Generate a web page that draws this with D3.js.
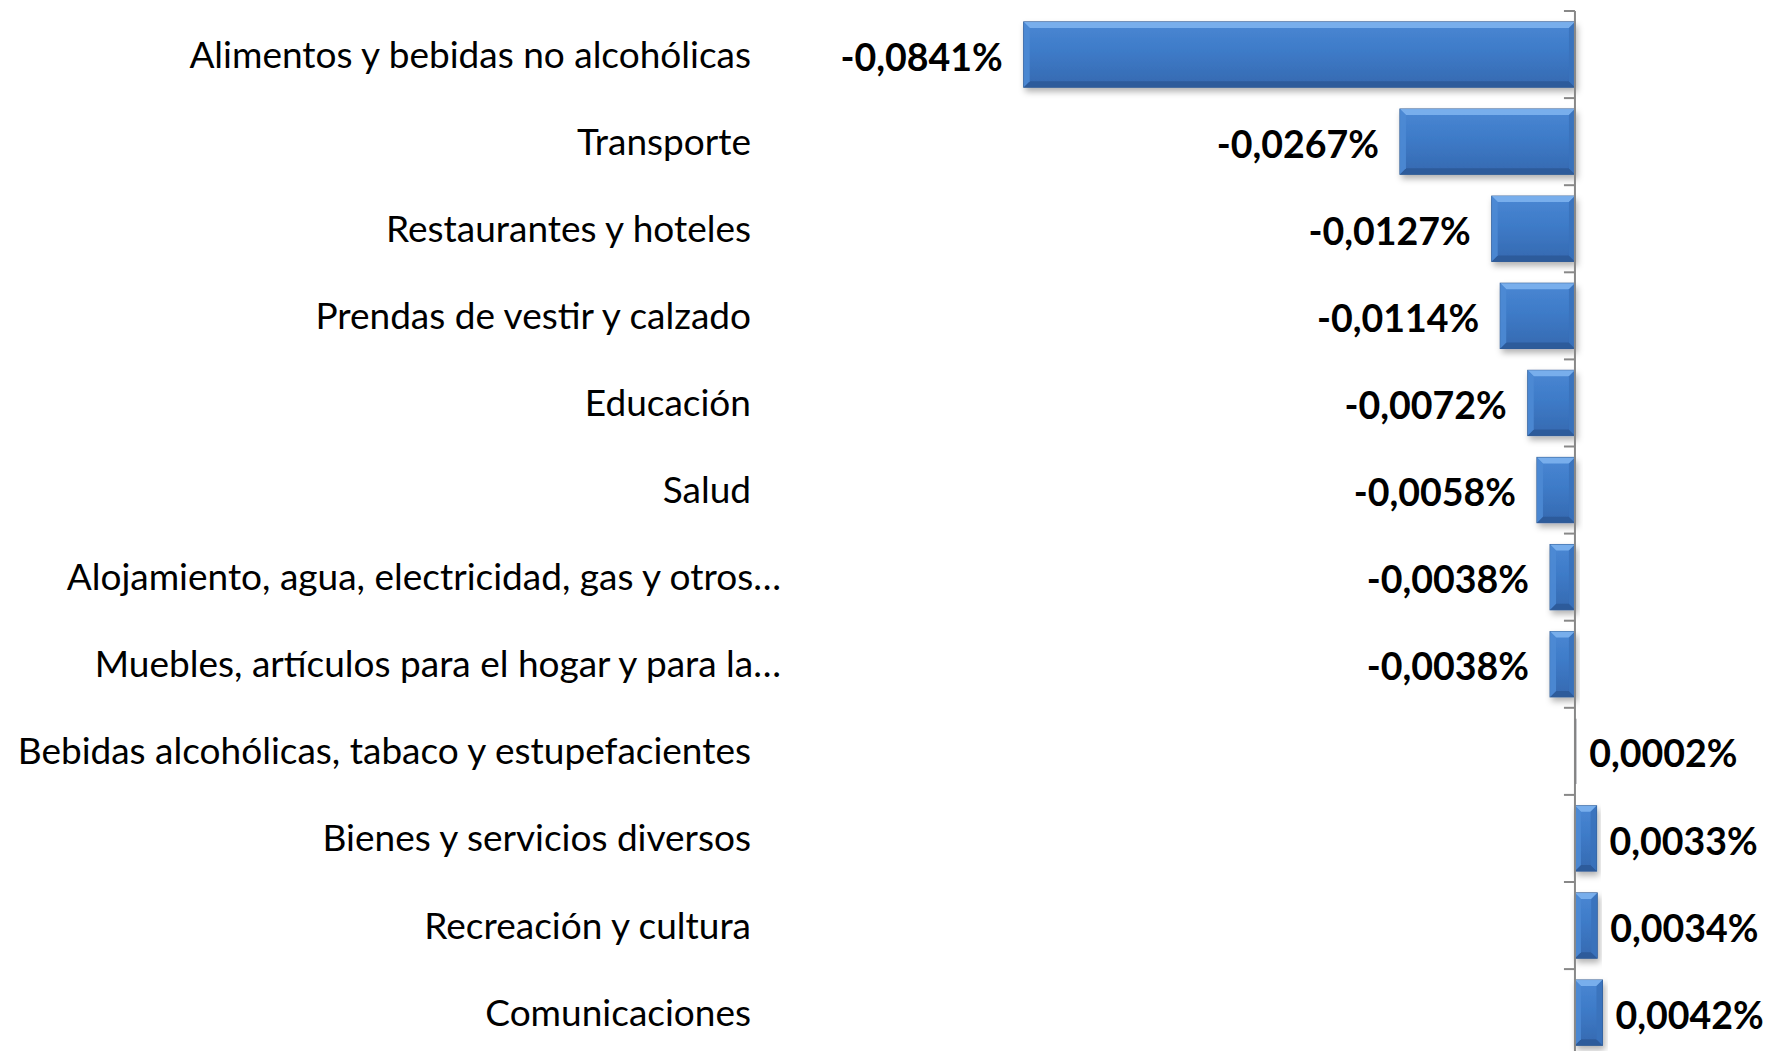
<!DOCTYPE html>
<html>
<head>
<meta charset="utf-8">
<script src="https://cdn.jsdelivr.net/npm/d3@7"></script>
<style>
  body { margin: 0; background: #fff; }
  svg { display: block; }
</style>
</head>
<body>
<svg id="chart" width="1772" height="1051"></svg>
<script>
const categories = [
  "Alimentos y bebidas no alcohólicas",
  "Transporte",
  "Restaurantes y hoteles",
  "Prendas de vestir y calzado",
  "Educación",
  "Salud",
  "Alojamiento, agua, electricidad, gas y otros…",
  "Muebles, artículos para el hogar y para la…",
  "Bebidas alcohólicas, tabaco y estupefacientes",
  "Bienes y servicios diversos",
  "Recreación y cultura",
  "Comunicaciones"
]
const values = [-0.0841, -0.0267, -0.0127, -0.0114, -0.0072, -0.0058, -0.0038, -0.0038, 0.0002, 0.0033, 0.0034, 0.0042]
const valueLabels = ["-0,0841%", "-0,0267%", "-0,0127%", "-0,0114%", "-0,0072%", "-0,0058%", "-0,0038%", "-0,0038%", "0,0002%", "0,0033%", "0,0034%", "0,0042%"]

const data = categories.map((c, i) => ({cat: c, value: values[i], label: valueLabels[i]}))

const svg = d3.select("#chart")

const xScale = d3.scaleLinear()
    .domain([-0.09, 0.01])
    .range([985, 1640.5])

const yScale = d3.scaleBand()
    .domain(categories)
    .range([11, 11 + 12 * 87.1])
    .paddingInner(0.25)
    .paddingOuter(0.125)

const step = yScale.step()
const gap = step - yScale.bandwidth()

// gradient + shadow for the bevelled bars
const defs = svg.append("defs")
const grad = defs.append("linearGradient")
    .attr("id", "barGrad")
    .attr("x1", 0).attr("y1", 0).attr("x2", 0).attr("y2", 1)
grad.append("stop").attr("offset", "0%").attr("stop-color", "#4a87d3")
grad.append("stop").attr("offset", "45%").attr("stop-color", "#3e7bc8")
grad.append("stop").attr("offset", "100%").attr("stop-color", "#3569b0")

const shadow = defs.append("filter")
    .attr("id", "shadow")
    .attr("x", "-20%").attr("y", "-20%").attr("width", "140%").attr("height", "160%")
shadow.append("feDropShadow")
    .attr("dx", 2).attr("dy", 4)
    .attr("stdDeviation", 3)
    .attr("flood-color", "#000")
    .attr("flood-opacity", 0.3)

const bars = svg.append("g")
    .selectAll("g")
    .data(data)
    .join("g")

bars.append("rect")
    .attr("x", d => xScale(Math.min(0, d.value)))
    .attr("y", d => yScale(d.cat))
    .attr("width", d => Math.abs(xScale(d.value) - xScale(0)))
    .attr("height", yScale.bandwidth())
    .attr("fill", d => Math.abs(d.value) < 0.001 ? "#2e3440" : "url(#barGrad)")
    .attr("stroke", d => Math.abs(d.value) < 0.001 ? "none" : "#2f5b95")
    .attr("stroke-width", 1)
    .attr("filter", d => Math.abs(d.value) < 0.001 ? null : "url(#shadow)")

// bevel edges
function bevel(d, side){
    const x0 = xScale(Math.min(0, d.value)), x1 = xScale(Math.max(0, d.value))
    const y0 = yScale(d.cat), y1 = y0 + yScale.bandwidth()
    const b = Math.min(6, (x1 - x0) / 2)
    if(side == "top") return [[x0, y0], [x1, y0], [x1 - b, y0 + b], [x0 + b, y0 + b]]
    if(side == "bottom") return [[x0, y1], [x1, y1], [x1 - b, y1 - b], [x0 + b, y1 - b]]
    if(side == "left") return [[x0, y0], [x0 + b, y0 + b], [x0 + b, y1 - b], [x0, y1]]
    return [[x1, y0], [x1 - b, y0 + b], [x1 - b, y1 - b], [x1, y1]]
}
const bevelFill = {top: "#7db2ee", bottom: "#2c5a98", left: "#4d8ad4", right: "#3a72bb"}

const big = bars.filter(d => Math.abs(d.value) >= 0.001)
for(const side of ["top", "bottom", "left", "right"]){
    big.append("polygon")
        .attr("points", d => bevel(d, side).map(p => p.join(",")).join(" "))
        .attr("fill", bevelFill[side])
        .attr("opacity", 0.9)
}

// axis line with ticks between categories
const axis = svg.append("g")
axis.append("line")
    .attr("x1", xScale(0)).attr("x2", xScale(0))
    .attr("y1", yScale.range()[0]).attr("y2", yScale.range()[1])
    .attr("stroke", "#888")
    .attr("stroke-width", 2)
axis.selectAll(".tick")
    .data(categories)
    .join("line")
    .attr("class", "tick")
    .attr("x1", xScale(0) - 11).attr("x2", xScale(0))
    .attr("y1", d => yScale(d) - gap / 2)
    .attr("y2", d => yScale(d) - gap / 2)
    .attr("stroke", "#888")
    .attr("stroke-width", 2)

// category labels
svg.append("g")
    .selectAll("text")
    .data(data)
    .join("text")
    .attr("x", d => d.cat.endsWith("…") ? 781 : 751)
    .attr("y", d => yScale(d.cat) + yScale.bandwidth() / 2)
    .attr("dy", "0.35em")
    .attr("text-anchor", "end")
    .attr("font-family", "Lato, 'Open Sans', sans-serif")
    .attr("font-size", 37)
    .attr("fill", "#000")
    .text(d => d.cat)

// value labels
svg.append("g")
    .selectAll("text")
    .data(data)
    .join("text")
    .attr("x", d => d.value < 0 ? xScale(d.value) - 21 : xScale(d.value) + 13)
    .attr("y", d => yScale(d.cat) + yScale.bandwidth() / 2 + 3)
    .attr("dy", "0.35em")
    .attr("text-anchor", d => d.value < 0 ? "end" : "start")
    .attr("font-family", "Lato, 'Open Sans', sans-serif")
    .attr("font-weight", "bold")
    .attr("font-size", 37.5)
    .attr("fill", "#000")
    .text(d => d.label)
</script>
</body>
</html>
